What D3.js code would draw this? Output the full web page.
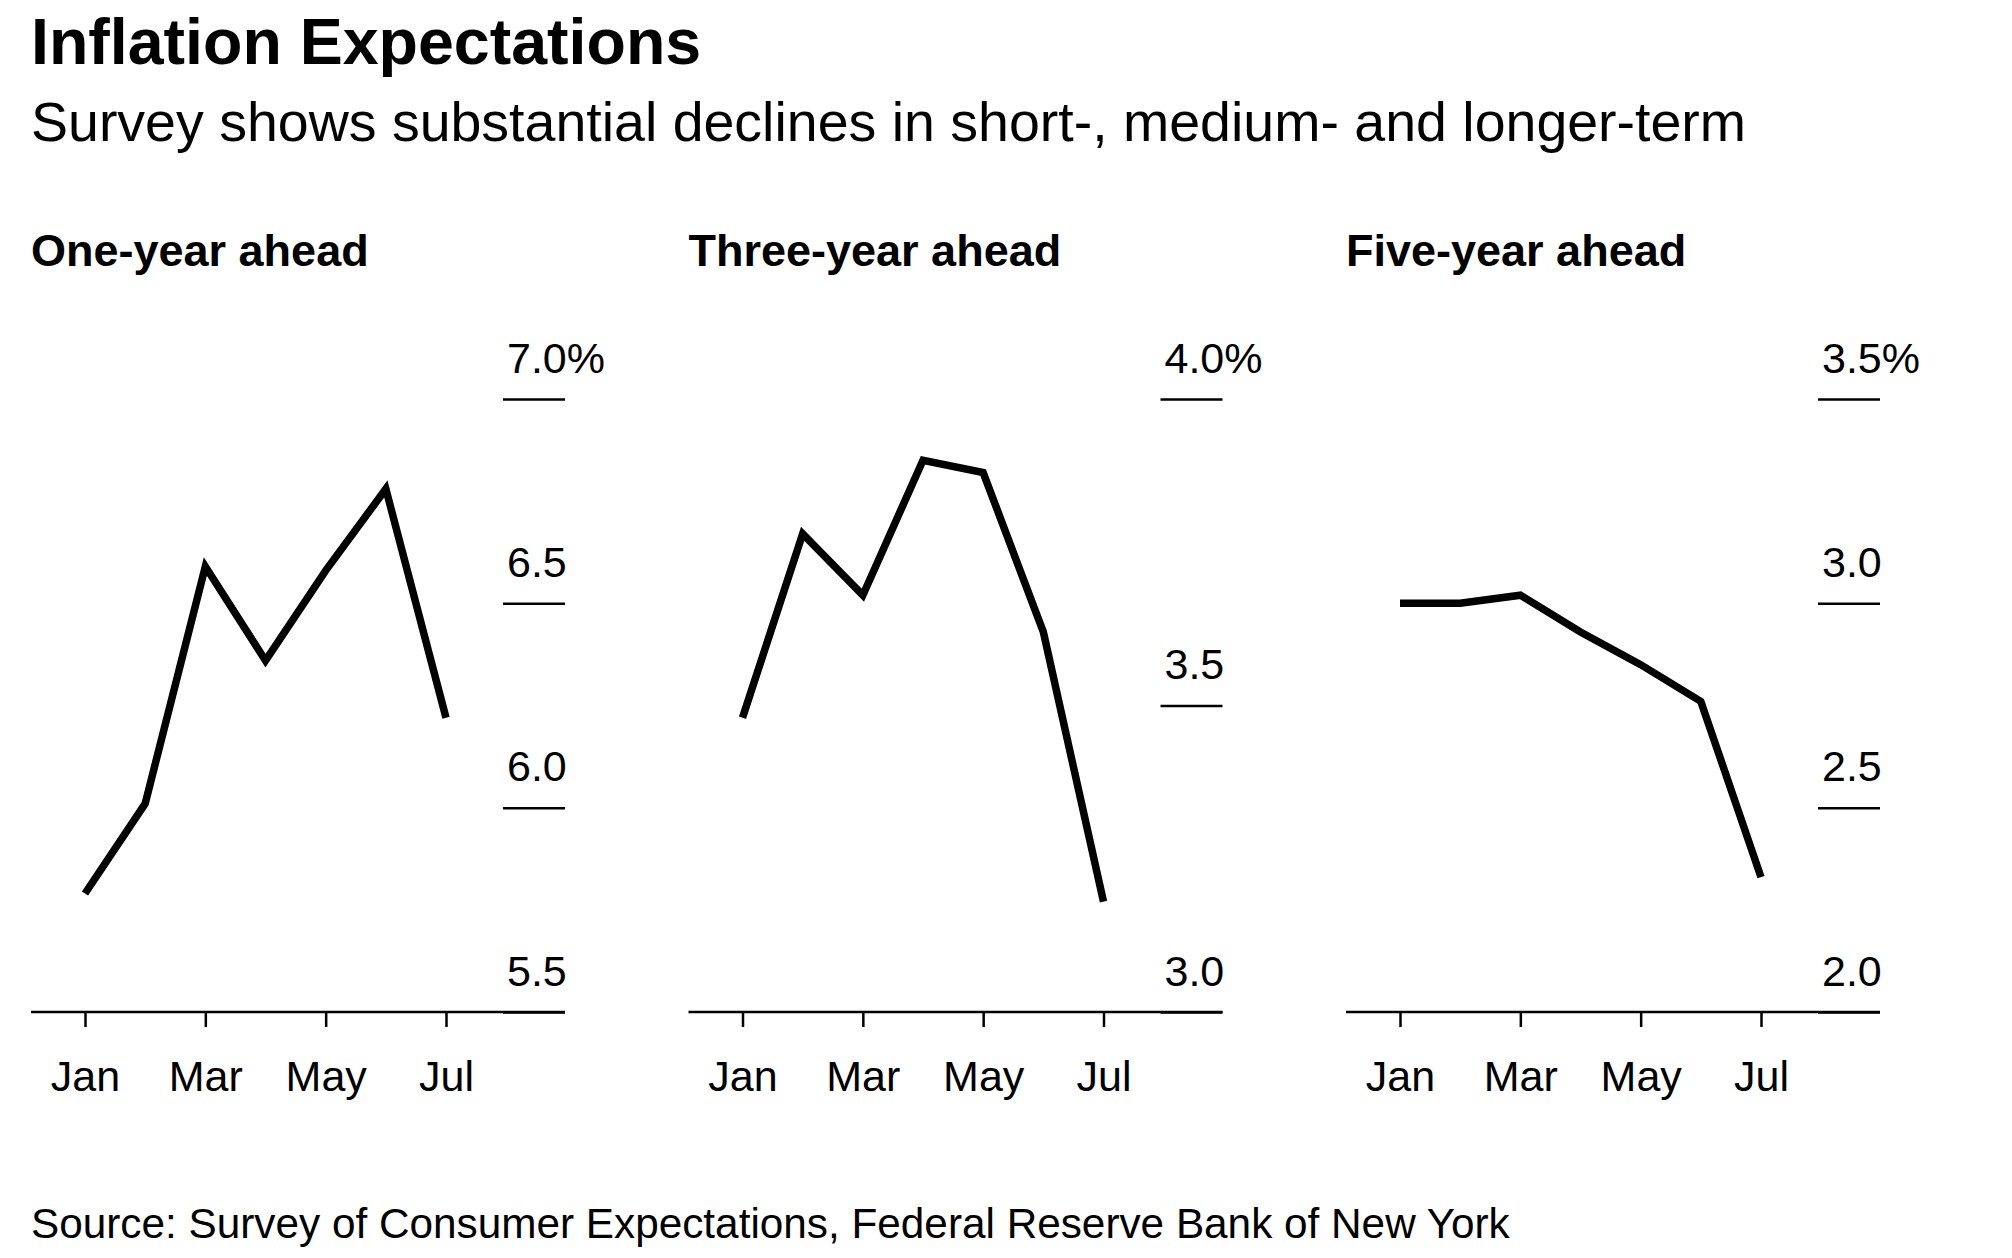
<!DOCTYPE html>
<html lang="en">
<head>
  <meta charset="UTF-8">
  <title>Inflation Expectations</title>
  <style>
    body { margin: 0; background: #fff; }
    text { font-family: "Liberation Sans", Arial, sans-serif; fill: #000; }
  </style>
</head>
<body>
<div id="chart"></div>
<script src="https://d3js.org/d3.v7.min.js"></script>
<script>
// data (monthly, Jan-Jul)
var months = ["Jan", "Feb", "Mar", "Apr", "May", "Jun", "Jul"];
var monthTicks = ["Jan", "Mar", "May", "Jul"];

var panelTitles = ["One-year ahead", "Three-year ahead", "Five-year ahead"];
var oneYear   = [5.79, 6.01, 6.59, 6.36, 6.58, 6.78, 6.22];
var threeYear = [3.48, 3.78, 3.68, 3.90, 3.88, 3.62, 3.18];
var fiveYear  = [3.00, 3.00, 3.02, 2.93, 2.85, 2.76, 2.33];

var oneTicks   = [5.5, 6.0, 6.5, 7.0];
var threeTicks = [3.0, 3.5, 4.0];
var fiveTicks  = [2.0, 2.5, 3.0, 3.5];

var series = [oneYear, threeYear, fiveYear];
var yTicks = [oneTicks, threeTicks, fiveTicks];

var W = 2012, H = 1258;

var svg = d3.select("#chart")
  .append("svg")
    .attr("width", W)
    .attr("height", H);

svg.append("text")
  .attr("x", 31).attr("y", 64)
  .style("font-size", "64.5px").style("font-weight", "bold")
  .text("Inflation Expectations");

svg.append("text")
  .attr("x", 31).attr("y", 141)
  .style("font-size", "55.5px")
  .text("Survey shows substantial declines in short-, medium- and longer-term");

svg.append("text")
  .attr("x", 31).attr("y", 1238)
  .style("font-size", "42.3px")
  .text("Source: Survey of Consumer Expectations, Federal Reserve Bank of New York");

var panelW = 534,
    plotTop = 399,
    plotBottom = 1012;

series.forEach(function(values, i) {
  var g = svg.append("g")
    .attr("transform", "translate(" + (31 + i * 657.5) + ",0)");

  g.append("text")
    .attr("x", 0).attr("y", 266)
    .style("font-size", "45px").style("font-weight", "bold")
    .text(panelTitles[i]);

  var x = d3.scalePoint()
    .domain(months)
    .range([54, 415]);

  var ticks = yTicks[i];
  var y = d3.scaleLinear()
    .domain([ticks[0], ticks[ticks.length - 1]])
    .range([plotBottom, plotTop]);

  // short gridlines with labels sitting above them
  var yAxis = g.append("g")
    .attr("transform", "translate(" + panelW + ",0)")
    .call(d3.axisLeft(y)
      .tickValues(ticks)
      .tickSize(62)
      .tickFormat(function(d) {
        return d === ticks[ticks.length - 1] ? d.toFixed(1) + "%" : d.toFixed(1);
      }));
  yAxis.select(".domain").remove();
  yAxis.selectAll(".tick line")
    .attr("stroke", "#000")
    .attr("stroke-width", 2.5);
  yAxis.selectAll(".tick text")
    .attr("x", -58)
    .attr("y", -27)
    .attr("dy", 0)
    .attr("text-anchor", "start")
    .style("font-size", "43px")
    .style("font-family", "'Liberation Sans', Arial, sans-serif");

  // baseline
  g.append("line")
    .attr("x1", 0).attr("x2", panelW)
    .attr("y1", plotBottom).attr("y2", plotBottom)
    .attr("stroke", "#000")
    .attr("stroke-width", 2.5);

  var xAxis = g.append("g")
    .attr("transform", "translate(0," + plotBottom + ")")
    .call(d3.axisBottom(x)
      .tickValues(monthTicks)
      .tickSize(15)
      .tickPadding(0));
  xAxis.select(".domain").remove();
  xAxis.selectAll(".tick line")
    .attr("stroke", "#000")
    .attr("stroke-width", 2.5);
  xAxis.selectAll(".tick text")
    .attr("y", 79)
    .attr("dy", 0)
    .style("font-size", "43px")
    .style("font-family", "'Liberation Sans', Arial, sans-serif");

  var line = d3.line()
    .x(function(d, j) { return x(months[j]); })
    .y(function(d) { return y(d); });

  g.append("path")
    .datum(values)
    .attr("d", line)
    .attr("fill", "none")
    .attr("stroke", "#000")
    .attr("stroke-width", 7.5)
    .attr("stroke-linejoin", "miter");
});
</script>
</body>
</html>
